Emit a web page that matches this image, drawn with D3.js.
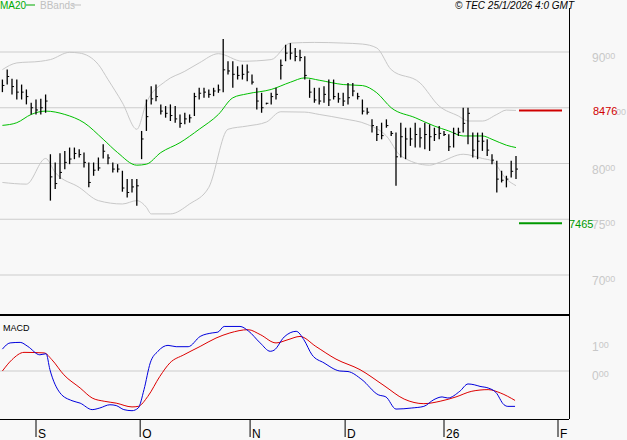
<!DOCTYPE html>
<html><head><meta charset="utf-8">
<script src="https://cdn.jsdelivr.net/npm/d3@7"></script>
<style>body{margin:0;background:#f8f8f8}svg{display:block;font-family:"Liberation Sans",Arial,sans-serif}</style>
</head><body>
<svg id="chart" width="627" height="440"></svg>
<script>
// daily bars: high / low / close
let highs = [8753,8842,8759,8753,8708,8664,8545,8574,8580,8619,8083,8009,8092,8113,8143,8143,8128,8098,8009,8009,8054,8173,8083,8009,7994,7935,7860,7860,7860,8292,8574,8693,8708,8530,8515,8530,8515,8440,8455,8440,8634,8679,8679,8664,8679,8708,9116,8917,8917,8872,8887,8887,8798,8679,8634,8545,8634,8679,8932,9065,9080,9036,9021,8961,8753,8679,8679,8693,8753,8753,8634,8634,8723,8723,8634,8574,8500,8396,8336,8366,8396,8292,8277,8366,8321,8321,8366,8321,8366,8351,8321,8336,8292,8262,8321,8321,8500,8500,8277,8277,8277,8217,8083,8024,7935,7890,8024,8068];
let lows = [8640,8708,8619,8574,8574,8530,8440,8440,8440,8455,7667,7771,7860,7949,7994,8039,8054,7964,7786,7890,7935,8045,7994,7920,7920,7747,7696,7741,7622,8039,8292,8530,8559,8440,8411,8381,8366,8321,8351,8366,8426,8574,8589,8589,8604,8634,8640,8798,8679,8753,8753,8738,8708,8485,8455,8530,8530,8574,8753,8917,8932,8917,8917,8753,8589,8545,8530,8545,8515,8574,8545,8515,8530,8604,8574,8440,8440,8277,8202,8217,8321,8247,7801,8054,8039,8158,8143,8143,8128,8113,8202,8217,8247,8113,8143,8247,8277,8173,8054,8039,8113,8068,7994,7741,7830,7786,7875,7860];
let closes = [8700,8780,8690,8640,8640,8600,8500,8480,8500,8560,7880,7820,7920,8010,8040,8090,8080,8010,7830,7940,7960,8110,8050,7950,7950,7780,7740,7790,7800,8220,8420,8580,8600,8470,8450,8430,8400,8360,8400,8410,8600,8630,8640,8620,8650,8660,8840,8830,8800,8790,8800,8820,8730,8560,8500,8540,8600,8620,8880,8990,8990,8960,8950,8790,8640,8570,8560,8620,8570,8600,8580,8560,8590,8650,8600,8470,8460,8340,8260,8250,8340,8270,8060,8240,8220,8220,8260,8230,8260,8240,8260,8270,8260,8150,8270,8280,8360,8450,8120,8200,8200,8120,8030,7860,7850,7860,7930,7950];

// indicators as [bar index, value]
let ma20 = [[0,8342],[3,8366],[6,8440],[9,8470],[13,8440],[17,8366],[21,8217],[24,8098],[28,7985],[30,7994],[33,8098],[37,8187],[41,8307],[45,8440],[48,8589],[51,8625],[56,8664],[60,8729],[63,8768],[66,8747],[71,8708],[75,8699],[78,8634],[81,8500],[86,8411],[90,8336],[93,8292],[96,8247],[100,8247],[102,8217],[105,8164],[107,8143]];
let bbUpper = [[0,8842],[3,8902],[8,8917],[10,8932],[14,8997],[16,8991],[20,8887],[22,8753],[25,8545],[28,8307],[30,8545],[34,8738],[38,8827],[41,8902],[45,8985],[50,8917],[56,8932],[60,9080],[65,9086],[71,9080],[75,9071],[78,9036],[81,8842],[87,8723],[91,8515],[95,8426],[97,8381],[100,8381],[103,8440],[105,8479],[107,8476]];
let bbLower = [[0,7830],[5,7815],[9,8045],[11,7920],[16,7786],[20,7667],[25,7637],[28,7667],[30,7607],[31,7548],[35,7548],[39,7637],[43,7786],[47,8307],[51,8336],[55,8372],[58,8464],[63,8461],[66,8440],[71,8402],[76,8351],[80,8247],[83,8068],[89,7985],[91,8009],[96,8083],[100,8045],[102,8024],[105,7860],[107,7801]];
let macd = [[0,0.81],[1.6,1.04],[3.7,1.06],[5.3,0.91],[7.8,0.6],[9.1,0.64],[9.9,0.05],[12,-0.81],[14.5,-1.1],[16.2,-1.19],[18.7,-1.43],[20.3,-1.37],[22.4,-1.25],[23.7,-1.28],[25.3,-1.43],[27,-1.47],[28.3,-1.37],[29.5,-0.69],[30.8,0.3],[32.4,0.73],[34.5,0.95],[36.2,0.9],[38.7,0.9],[41.2,1.28],[43.7,1.41],[44.9,1.44],[46.2,1.65],[49.5,1.65],[51.2,1.49],[53.7,1.04],[55.8,0.73],[56.6,0.77],[58.7,1.26],[61.2,1.47],[62.8,1.16],[64.5,0.6],[67,0.3],[70.3,0],[72,-0.02],[74.9,-0.32],[78.3,-0.88],[79.9,-0.96],[82,-1.41],[85.3,-1.37],[87.8,-1.31],[89.9,-1.06],[91.6,-0.96],[92.8,-1.0],[95.3,-0.75],[97,-0.48],[98.3,-0.51],[99.5,-0.57],[101.2,-0.63],[102.8,-0.79],[104.5,-1.25],[105.3,-1.31],[106.8,-1.31]];
let signal = [[0,0],[2,0.42],[4.5,0.69],[8.7,0.67],[10.3,0.42],[12.8,-0.14],[16.2,-0.63],[18.7,-1.0],[21.2,-1.12],[23.7,-1.19],[27,-1.33],[28.3,-1.31],[30.3,-0.94],[32.8,-0.2],[34.9,0.3],[37.8,0.6],[41.2,0.91],[44.5,1.22],[47.4,1.41],[51.2,1.53],[53.7,1.35],[57,1.04],[59.5,1.16],[62,1.28],[65.3,0.91],[69.5,0.44],[74.5,0.05],[79.5,-0.54],[83.7,-1.04],[87.8,-1.21],[91.2,-1.12],[94.5,-0.96],[97.8,-0.75],[101.2,-0.69],[103.7,-0.81],[106.8,-1.09]];

let priceTicks = [7000, 7500, 8000, 8500, 9000];
let monthIdx = [7, 28.7, 51.6, 71.4, 92, 115.75];
let monthLabels = ["S", "O", "N", "D", "26", "F"];
let resistance = 8476, support = 7465;

let svg = d3.select("#chart");
let plotRight = 569;
let x = d3.scaleLinear().domain([0, 107]).range([2.4, 516]);
let y = d3.scaleLinear().domain([7000, 9000]).range([275, 52]);
let ym = d3.scaleLinear().domain([0, 1]).range([371, 344]);

svg.append("rect").attr("width", 627).attr("height", 440).attr("fill", "#f8f8f8");

// grid
svg.selectAll(".pg").data(priceTicks).enter().append("line")
  .attr("x1", 0).attr("x2", plotRight).attr("y1", d => y(d)).attr("y2", d => y(d))
  .attr("stroke", "#cccccc");
svg.append("line").attr("x1", 0).attr("x2", plotRight).attr("y1", ym(0)).attr("y2", ym(0)).attr("stroke", "#cccccc");

function splitLabel(g, yy, main, sup) {
  let t = g.append("text").attr("x", 592).attr("y", yy).attr("fill", "#c8c8c8").style("font-size", "12px");
  t.append("tspan").text(main);
  t.append("tspan").text(sup).style("font-size", "9px").attr("dy", -3);
}
let lab = svg.append("g");
priceTicks.forEach(v => { if (v !== 8500) splitLabel(lab, y(v) + 10, String(v).slice(0, 2), "00"); });
// 8500 label sits behind the resistance value; only its tail shows
let t85 = lab.append("text").attr("x", 616).attr("y", y(8500) + 7).attr("fill", "#c8c8c8").style("font-size", "9px").text("00");
splitLabel(lab, ym(1) + 7, "1", "00");
splitLabel(lab, ym(0) + 9, "0", "00");

// bands and MA
let line = d3.line().x(d => x(d[0])).curve(d3.curveMonotoneX);
svg.append("path").datum(bbUpper).attr("d", line.y(d => y(d[1]))).attr("fill", "none").attr("stroke", "#c8c8c8");
svg.append("path").datum(bbLower).attr("d", line.y(d => y(d[1]))).attr("fill", "none").attr("stroke", "#c8c8c8");
svg.append("path").datum(ma20).attr("d", line.y(d => y(d[1]))).attr("fill", "none").attr("stroke", "#00c000");

// bars
let bars = svg.append("g").attr("stroke", "#000");
highs.forEach((h, i) => {
  bars.append("line").attr("x1", x(i)).attr("x2", x(i)).attr("y1", y(h)).attr("y2", y(lows[i])).attr("stroke-width", 1.3);
  bars.append("line").attr("x1", x(i)).attr("x2", x(i) + 2).attr("y1", y(closes[i])).attr("y2", y(closes[i]));
});

// support / resistance
svg.append("line").attr("x1", 519).attr("x2", 562).attr("y1", y(resistance)).attr("y2", y(resistance)).attr("stroke", "#d00000").attr("stroke-width", 2);
svg.append("line").attr("x1", 519).attr("x2", 562).attr("y1", y(support)).attr("y2", y(support)).attr("stroke", "#009900").attr("stroke-width", 2);
svg.append("text").attr("x", 593).attr("y", y(resistance) + 5).attr("fill", "#d00000").style("font-size", "11px").text(resistance);
svg.append("text").attr("x", 569).attr("y", y(support) + 5).attr("fill", "#009900").style("font-size", "11px").text(support);

// MACD
svg.append("path").datum(signal).attr("d", line.y(d => ym(d[1]))).attr("fill", "none").attr("stroke", "#dd0000");
svg.append("path").datum(macd).attr("d", line.y(d => ym(d[1]))).attr("fill", "none").attr("stroke", "#0000dd");

// frames
svg.append("line").attr("x1", 0).attr("x2", plotRight).attr("y1", 315).attr("y2", 315).attr("stroke", "#000").attr("stroke-width", 2);
svg.append("line").attr("x1", 0).attr("x2", plotRight).attr("y1", 419.5).attr("y2", 419.5).attr("stroke", "#000");
svg.append("line").attr("x1", plotRight + 0.5).attr("x2", plotRight + 0.5).attr("y1", 8).attr("y2", 419).attr("stroke", "#000");

// x axis ticks
svg.selectAll(".mt").data(monthIdx).enter().append("line")
  .attr("x1", d => x(d)).attr("x2", d => x(d)).attr("y1", 420).attr("y2", 437).attr("stroke", "#000");
svg.selectAll(".ml").data(monthIdx).enter().append("text")
  .attr("x", d => x(d) + 2).attr("y", 438).style("font-size", "12px").text((d, i) => monthLabels[i]);

// legend / titles
svg.append("text").attr("x", 0).attr("y", 9).attr("fill", "#00aa00").style("font-size", "10px").text("MA20");
svg.append("line").attr("x1", 26).attr("x2", 35).attr("y1", 5).attr("y2", 5).attr("stroke", "#00aa00");
svg.append("text").attr("x", 40).attr("y", 9).attr("fill", "#c0c0c0").style("font-size", "10px").text("BBands");
svg.append("line").attr("x1", 72).attr("x2", 81).attr("y1", 5).attr("y2", 5).attr("stroke", "#c0c0c0");
svg.append("text").attr("x", 574).attr("y", 9).attr("text-anchor", "end").style("font-size", "10px").style("font-style", "italic").text("© TEC 25/1/2026 4:0 GMT");
svg.append("text").attr("x", 3).attr("y", 331).style("font-size", "9px").text("MACD");
</script>
</body></html>
